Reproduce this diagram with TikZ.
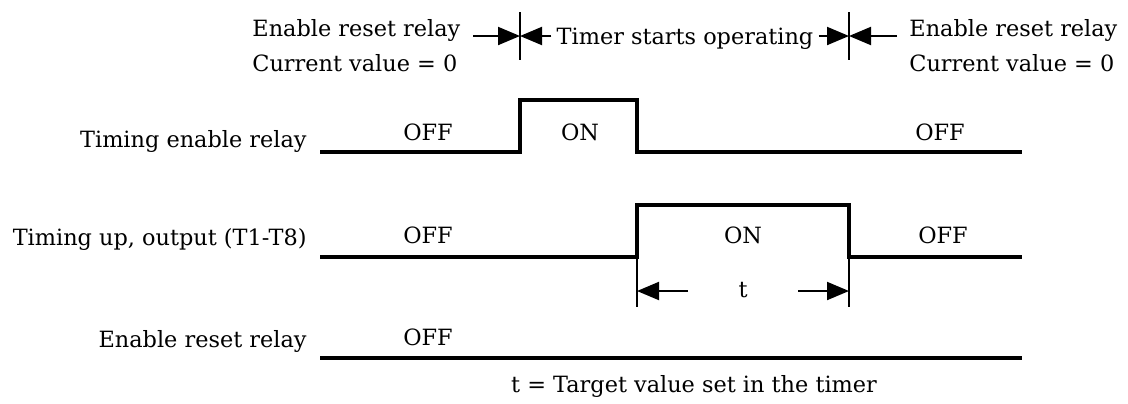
\documentclass[tikz,border=0pt]{standalone}
\usepackage{fontspec}
\usepackage{tikz}
\setmainfont{DejaVu Serif}
\usetikzlibrary{arrows.meta}
\usetikzlibrary{positioning}

\begin{document}
\begin{tikzpicture}[
		x=0.5pt, y=-0.5pt,
		signal/.style={draw=black, line width=2pt},
		marker/.style={draw=black, line width=1pt},
		dim arrow/.style={-{Triangle[length=11pt, width=9pt]}, draw=black, line width=1pt},
		text box/.style={font=\fontsize{11.2}{14}\selectfont, inner sep=0pt},
	]
	\useasboundingbox (0,0) rectangle (1128,403);
	% Phase notes
	\node[text box, anchor=base west] (reset before) at (252,36) {Enable reset relay};
	\node[text box, anchor=base west] (value before) at (252,71) {Current value = 0};
	\node[text box, anchor=base west] (reset after) at (909,36) {Enable reset relay};
	\node[text box, anchor=base west] (value after) at (909,71) {Current value = 0};
	\node[text box, inner xsep=2.5pt, anchor=base] (timer) at (685,44) {Timer starts operating};
	% Phase markers
	\coordinate (mark a) at (520,36);
	\coordinate (mark b) at (849,36);
	\coordinate (arrow a start) at (473,36);
	\coordinate (arrow b start) at (897,36);
	\draw[marker] (mark a) ++(0,-24) -- ++(0,48);
	\draw[marker] (mark b) ++(0,-24) -- ++(0,48);
	\draw[dim arrow] (arrow a start) -- (mark a);
	\draw[dim arrow] (timer.west |- mark a) -- (mark a);
	\draw[dim arrow] (timer.east |- mark b) -- (mark b);
	\draw[dim arrow] (arrow b start) -- (mark b);
	% Signal names
	\node[text box, anchor=base east] (ter name) at (307,147) {Timing enable relay};
	\node[text box, anchor=base east] (out name) at (307,245) {Timing up, output (T1-T8)};
	\node[text box, anchor=base east] (reset name) at (307,347) {Enable reset relay};
	% Signal levels
	\node[text box, anchor=base] (ter off a) at (428,140) {OFF};
	\node[text box, anchor=base] (ter on) at (580,140) {ON};
	\node[text box, anchor=base] (ter off b) at (940,140) {OFF};
	\node[text box, anchor=base] (out off a) at (428,243) {OFF};
	\node[text box, anchor=base] (out on) at (743,243) {ON};
	\node[text box, anchor=base] (out off b) at (943,243) {OFF};
	\node[text box, anchor=base] (reset off) at (428,345) {OFF};
	% Waveforms
	\coordinate (ter start) at (320,152);
	\coordinate (ter rise) at (520,152);
	\coordinate (ter fall) at (637,152);
	\coordinate (ter end) at (1022,152);
	\coordinate (out start) at (320,257);
	\coordinate (out rise) at (637,257);
	\coordinate (out fall) at (849,257);
	\coordinate (out end) at (1022,257);
	\coordinate (reset start) at (320,358);
	\coordinate (reset end) at (1022,358);
	\draw[signal] (ter start) -- (ter rise) -- ++(0,-52) -| (ter fall) -- (ter end);
	\draw[signal] (out start) -- (out rise) -- ++(0,-52) -| (out fall) -- (out end);
	\draw[signal] (reset start) -- (reset end);
	% Target time
	\node[text box, anchor=base] (t len) at (743,297) {t};
	\coordinate (t left) at (637,291);
	\coordinate (t right) at (849,291);
	\draw[marker] (out rise) -- ++(0,50);
	\draw[marker] (out fall) -- ++(0,50);
	\draw[dim arrow] ([xshift=-27.5pt]t len.center |- t left) -- (t left);
	\draw[dim arrow] ([xshift=27.5pt]t len.center |- t right) -- (t right);
	\node[text box, anchor=base] (note) at (694,392) {t = Target value set in the timer};
\end{tikzpicture}
\end{document}
